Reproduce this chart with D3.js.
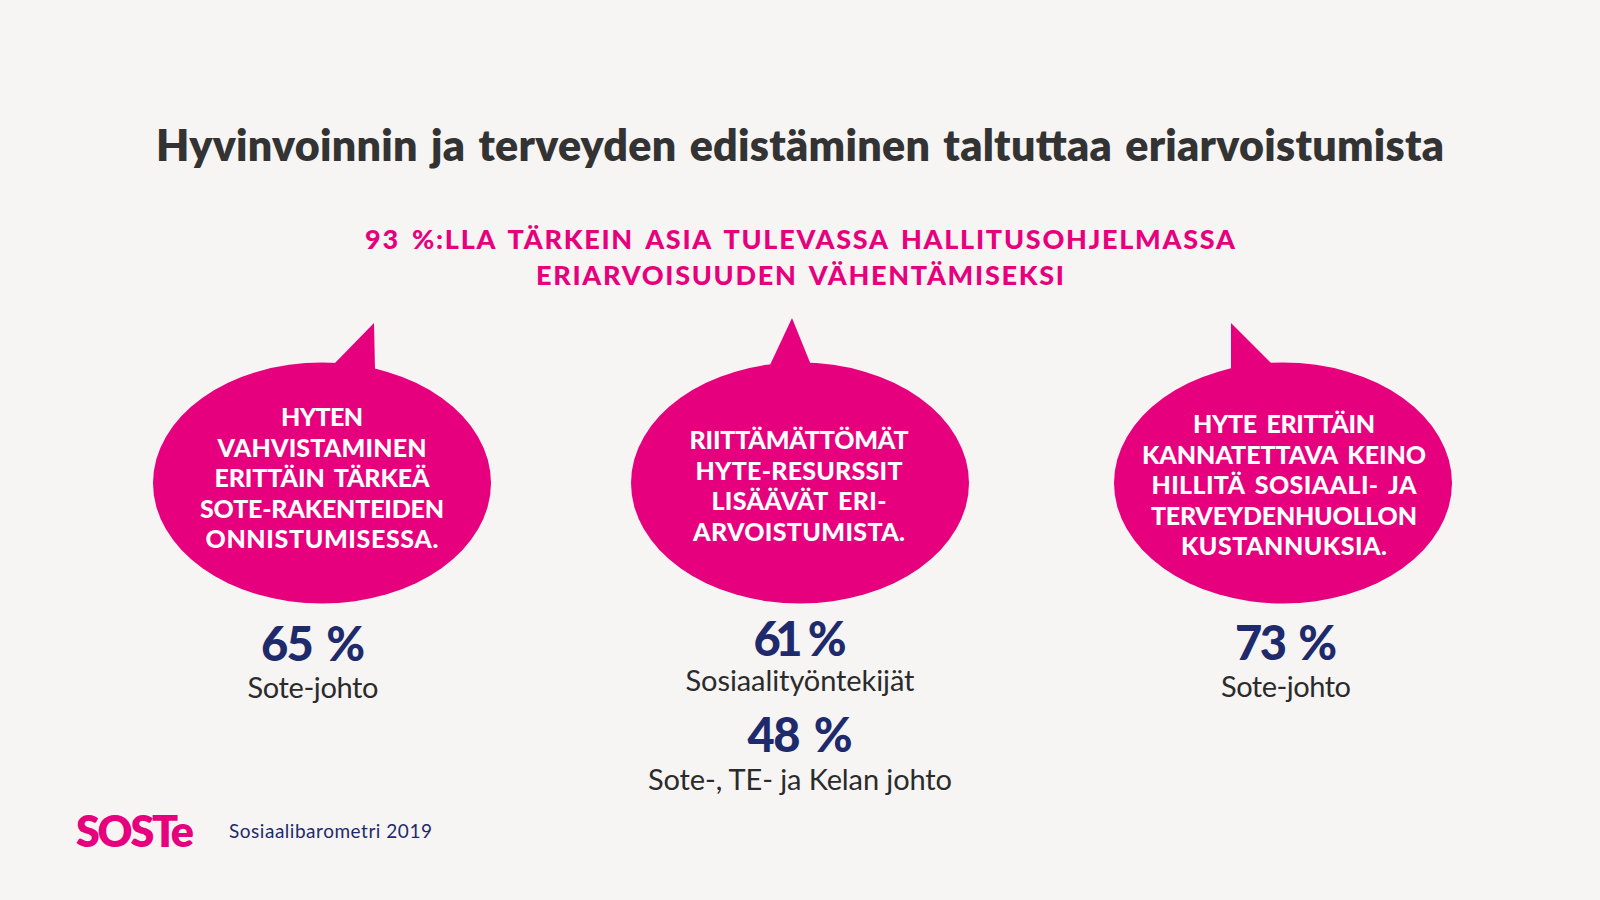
<!DOCTYPE html>
<html><head><meta charset="utf-8">
<script src="https://cdn.jsdelivr.net/npm/d3@7"></script>
<style>html,body{margin:0;padding:0;background:#f6f5f3;overflow:hidden}svg{display:block}</style>
</head><body><svg id="c" width="1600" height="900"></svg>
<script>
const titleText = "Hyvinvoinnin ja terveyden edistäminen taltuttaa eriarvoistumista";
const subtitleLines = ["93 %:LLA TÄRKEIN ASIA TULEVASSA HALLITUSOHJELMASSA", "ERIARVOISUUDEN VÄHENTÄMISEKSI"];
const bubbleLines = [
  ["HYTEN","VAHVISTAMINEN","ERITTÄIN TÄRKEÄ","SOTE-RAKENTEIDEN","ONNISTUMISESSA."],
  ["RIITTÄMÄTTÖMÄT","HYTE-RESURSSIT","LISÄÄVÄT ERI-","ARVOISTUMISTA."],
  ["HYTE ERITTÄIN","KANNATETTAVA KEINO","HILLITÄ SOSIAALI- JA","TERVEYDENHUOLLON","KUSTANNUKSIA."]
];
const statValues = [65, 61, 48, 73];
const statLabels = ["Sote-johto","Sosiaalityöntekijät","Sote-, TE- ja Kelan johto","Sote-johto"];
const logoText = "SOSTe";
const sourceText = "Sosiaalibarometri 2019";

const PINK="#e6007e", NAVY="#1f2a6d", DARK="#333333", F="Lato, 'Open Sans', sans-serif";
const svg=d3.select("#c");
svg.append("rect").attr("width",1600).attr("height",900).attr("fill","#f6f5f3");

function txt(s,x,y,size,weight,fill,width,anchor,ws){
  const t=svg.append("text").attr("x",x).attr("y",y).attr("font-family",F).attr("font-size",size)
   .attr("font-weight",weight).attr("fill",fill).attr("text-anchor",anchor||"middle")
   .attr("word-spacing",ws||0).text(s);
  if(width) t.attr("textLength",width).attr("lengthAdjust","spacing");
  return t;
}
txt(titleText,800,161,43,800,DARK,1288,"middle",3);
txt(subtitleLines[0],800,248.5,27,900,PINK,870,"middle",4);
txt(subtitleLines[1],800,285,27,900,PINK,528,"middle",4);

const cx=[322,800,1283], cy=483, rx=169, ry=120.5;
const tails=[[[334,364],[374,323],[375,370]],[[770,365],[792,318],[811,365]],[[1231,370],[1231,323],[1273,365]]];
const tailLine=d3.line();
svg.selectAll("path.tail").data(tails).join("path").attr("class","tail").attr("d",d=>tailLine(d)+"Z").attr("fill",PINK);
svg.selectAll("ellipse").data(cx).join("ellipse").attr("cx",d=>d).attr("cy",cy).attr("rx",rx).attr("ry",ry).attr("fill",PINK);

const firstY=[426,449,433], step=30.6;
const widths=[[82,209,215,244,233],[219,207,175,212],[182,284,265,266,206]];
const textCx=[322,799,1284];
bubbleLines.forEach((lines,i)=>lines.forEach((l,j)=>
  txt(l,textCx[i],firstY[i]+j*step,25,900,"#ffffff",widths[i][j],"middle",4)));

const statPos=[[313,661,698,104,131],[800,656,691,93,229],[800,752,790,105,304],[1286,660,697,102,130]];
statValues.forEach((v,i)=>{
  const p=statPos[i];
  txt(v+" %",p[0],p[1],47,900,NAVY,p[3],"middle",5);
  txt(statLabels[i],p[0],p[2],29,400,"#2b2b2b",p[4]);
});
txt(logoText,76,847,43,800,PINK,118,"start");
txt(sourceText,229,838,19,400,NAVY,203,"start");
</script></body></html>
